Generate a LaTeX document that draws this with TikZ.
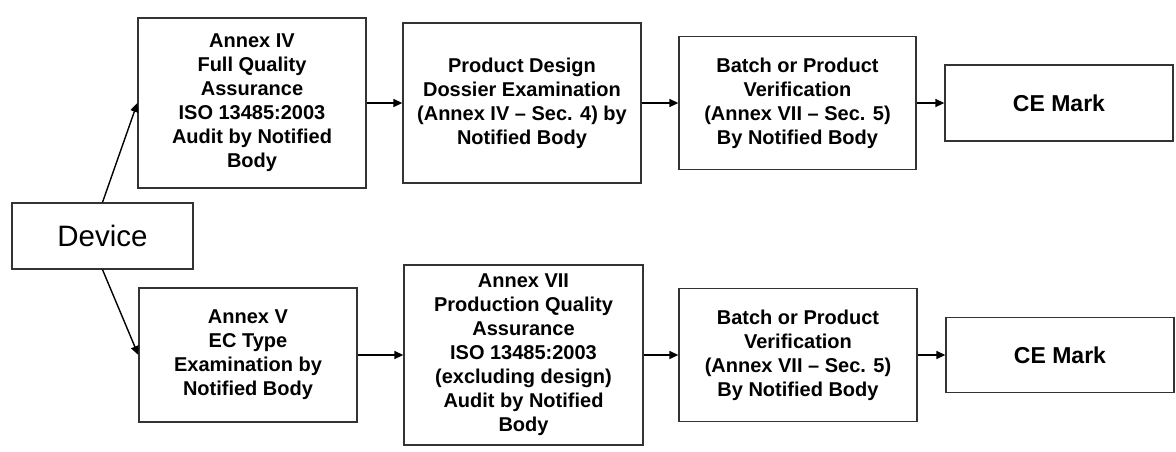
\documentclass[tikz,border=0pt]{standalone}
\usepackage{fontspec}
\setmainfont{Liberation Sans}
\usetikzlibrary{arrows.meta}
\tikzset{
  stage/.style={draw=black!80, line width=1.3pt, inner sep=0pt, align=center,
    font=\bfseries\fontsize{20}{24}\selectfont},
  flow/.style={line width=1.4pt, -{Triangle[length=9pt,width=8pt]}}
}
\begin{document}
\begin{tikzpicture}[x=1pt,y=-1pt]
\useasboundingbox (0,0) rectangle (1176,451);

\node[stage, font=\fontsize{29.5}{33}\selectfont, minimum width=181pt, minimum height=66pt]
  (device) at (102.5,236) {Device};

% upper route: full quality assurance
\node[stage, minimum width=228pt, minimum height=170pt] (a4) at (252,103)
  {Annex IV\\Full Quality\\Assurance\\ISO 13485:2003\\Audit by Notified\\Body};
\node[stage, minimum width=238pt, minimum height=160pt] (pd) at (522,103)
  {Product Design\\Dossier Examination\\(Annex IV -- Sec. 4) by\\Notified Body};
\node[stage, minimum width=237pt, minimum height=133pt] (bt) at (797.5,103)
  {Batch or Product\\Verification\\(Annex VII -- Sec. 5)\\By Notified Body};
\node[stage, font=\bfseries\fontsize{23}{27}\selectfont, minimum width=228pt, minimum height=76pt]
  (ce1) at (1059,103) {CE Mark};

% lower route: EC type examination
\node[stage, minimum width=218pt, minimum height=134pt] (a5) at (248,355)
  {Annex V\\EC Type\\Examination by\\Notified Body};
\node[stage, minimum width=239pt, minimum height=180pt] (a7) at (523.5,355)
  {Annex VII\\Production Quality\\Assurance\\ISO 13485:2003\\(excluding design)\\Audit by Notified\\Body};
\node[stage, minimum width=238pt, minimum height=133pt] (bb) at (798,355)
  {Batch or Product\\Verification\\(Annex VII -- Sec. 5)\\By Notified Body};
\node[stage, font=\bfseries\fontsize{23}{27}\selectfont, minimum width=228pt, minimum height=75pt]
  (ce2) at (1060,355) {CE Mark};

\draw[flow] (device.north) -- (a4.west);
\draw[flow] (device.south) -- (a5.west);
\draw[flow] (a4) -- (pd);
\draw[flow] (pd) -- (bt);
\draw[flow] (bt) -- (ce1);
\draw[flow] (a5) -- (a7);
\draw[flow] (a7) -- (bb);
\draw[flow] (bb) -- (ce2);
\end{tikzpicture}
\end{document}
